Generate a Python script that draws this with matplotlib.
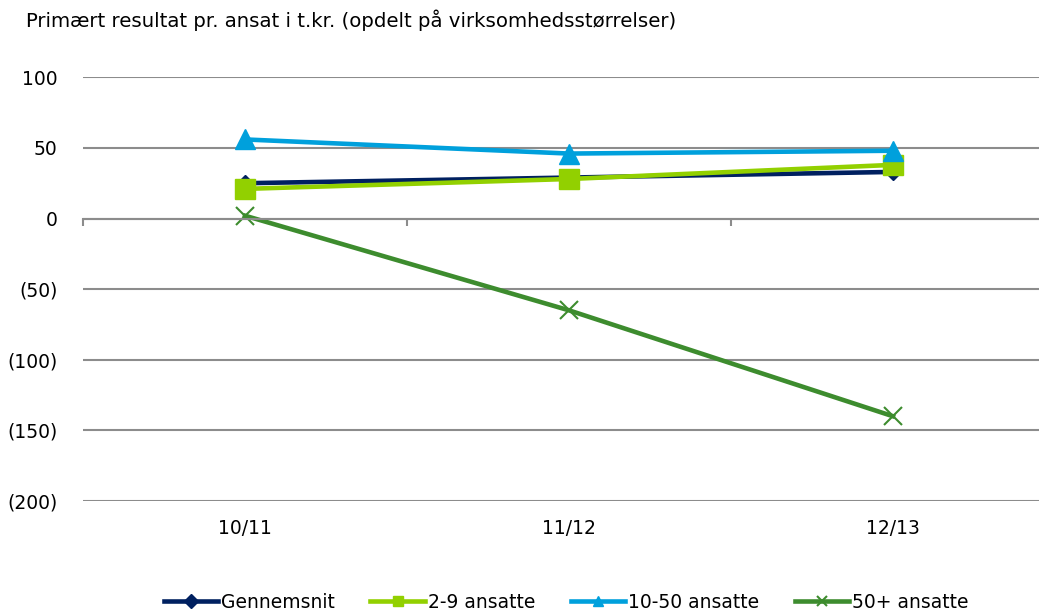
import matplotlib.pyplot as plt
from matplotlib.transforms import blended_transform_factory

plt.rcParams['font.family'] = ['DejaVu Sans']

# data
perioder = ["10/11", "11/12", "12/13"]
gennemsnit = [25, 29, 33]
ansatte_2_9 = [21, 28, 38]
ansatte_10_50 = [56, 46, 48]
ansatte_50 = [2, -65, -140]

fig = plt.figure(figsize=(10.39, 6.15), dpi=100)
ax = fig.add_axes([83 / 1039, 1 - 501 / 615, 972 / 1039, (501 - 77.3) / 615])

x = range(len(perioder))
ax.plot(x, gennemsnit, color="#002060", lw=3.3, marker="D", ms=8, label="Gennemsnit")
ax.plot(x, ansatte_2_9, color="#92D000", lw=3.3, marker="s", ms=14, label="2-9 ansatte")
ax.plot(x, ansatte_10_50, color="#00A0DC", lw=3.3, marker="^", ms=14, label="10-50 ansatte")
ax.plot(x, ansatte_50, color="#3D8C2E", lw=3.3, marker="x", ms=13, mew=1.5, label="50+ ansatte")

ax.set_xlim(-0.5, 2.5)
ax.set_ylim(-200, 100)
yt = [100, 50, 0, -50, -100, -150, -200]
ax.set_yticks(yt)
ax.set_yticklabels([str(v) if v >= 0 else "(%d)" % -v for v in yt], fontsize=13.5)
ax.yaxis.grid(True, color="#8c8c8c", lw=1.5)
ax.set_axisbelow(True)
ax.tick_params(axis="y", length=0, pad=18.5)

for s in ["top", "right", "left"]:
    ax.spines[s].set_visible(False)
ax.spines["bottom"].set_position(("data", 0))
ax.spines["bottom"].set_color("#8c8c8c")
ax.spines["bottom"].set_linewidth(1.5)
ax.set_xticks(list(x))
ax.set_xticklabels([])
ax.tick_params(axis="x", which="major", length=0)
ax.set_xticks([-0.5, 0.5, 1.5, 2.5], minor=True)
ax.tick_params(axis="x", which="minor", length=5, width=1.5, color="#8c8c8c", direction="out")

tr = blended_transform_factory(ax.transData, ax.transAxes)
for i, p in enumerate(perioder):
    ax.text(i, -0.066, p, transform=tr, ha="center", va="center", fontsize=13.5)

fig.text(26 / 1039, 1 - 20 / 615, "Primært resultat pr. ansat i t.kr. (opdelt på virksomhedsstørrelser)",
         fontsize=14.2, va="center", ha="left")

leg = fig.legend(loc="center", bbox_to_anchor=(566 / 1039, 1 - 602 / 615), ncol=4, frameon=False,
                 fontsize=13.5, handlelength=2.9, columnspacing=1.9, handletextpad=0.15)
for h in leg.legend_handles:
    h.set_markersize(7)

fig.savefig("out.png")
